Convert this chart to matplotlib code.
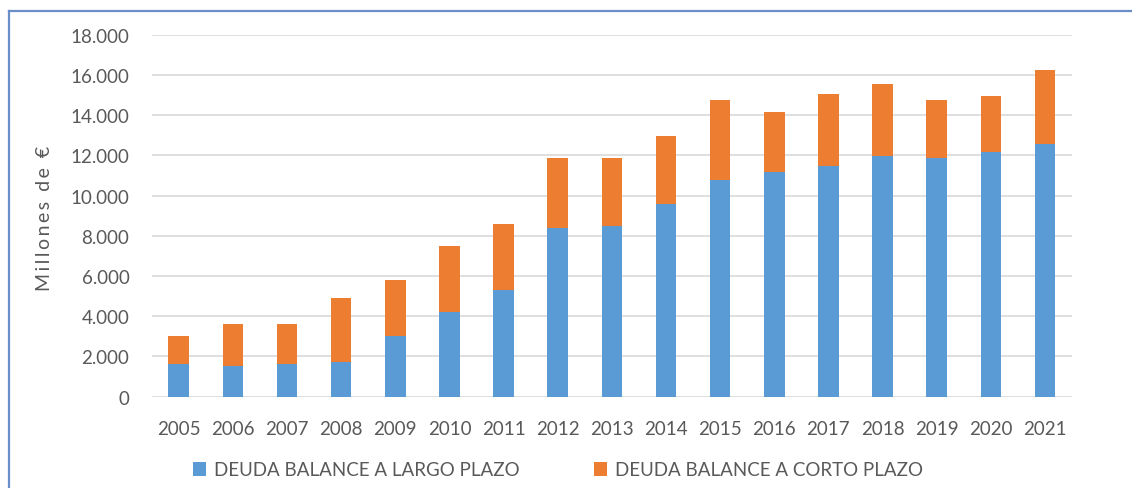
import matplotlib
matplotlib.use("Agg")
import matplotlib.pyplot as plt
from matplotlib.lines import Line2D
from matplotlib.ticker import FuncFormatter

years = ["2005", "2006", "2007", "2008", "2009", "2010", "2011", "2012", "2013",
         "2014", "2015", "2016", "2017", "2018", "2019", "2020", "2021"]
largo_plazo = [1630, 1540, 1630, 1740, 3000, 4230, 5310, 8390, 8490,
               9600, 10780, 11170, 11490, 11980, 11870, 12170, 12570]
total = [3000, 3610, 3610, 4910, 5800, 7490, 8570, 11870, 11870,
         12980, 14770, 14140, 15050, 15550, 14770, 14950, 16250]
corto_plazo = [t - l for t, l in zip(total, largo_plazo)]

BLUE = "#5B9BD5"
ORANGE = "#ED7D31"
TEXT = "#595959"
GRID = "#D9D9D9"

plt.rcParams["font.family"] = ["Lato", "DejaVu Sans"]

W, H = 1132, 489
fig = plt.figure(figsize=(W / 100, H / 100), dpi=100)

# chart frame (only the top and left edges are in view)
fig.add_artist(Line2D([9 / W, 9 / W], [0, 1 - 12 / H], color="#6A8FC8", lw=1.6))
fig.add_artist(Line2D([9 / W, 1], [1 - 12 / H, 1 - 12 / H], color="#6A8FC8", lw=1.6))

ax = fig.add_axes([151.7 / W, 1 - 397.7 / H, (1072 - 151.7) / W, (397.7 - 35.7) / H])
x = range(len(years))
ax.bar(x, largo_plazo, width=0.38, color=BLUE, zorder=3,
       label="DEUDA BALANCE A LARGO PLAZO")
ax.bar(x, corto_plazo, width=0.38, bottom=largo_plazo, color=ORANGE, zorder=3,
       label="DEUDA BALANCE A CORTO PLAZO")

ax.set_xlim(-0.5, len(years) - 0.5)
ax.set_ylim(0, 18000)
ax.set_yticks(range(0, 18001, 2000))
ax.yaxis.set_major_formatter(FuncFormatter(lambda v, _: f"{int(v):,}".replace(",", ".")))
ax.set_xticks(list(x))
ax.set_xticklabels(years)
ax.grid(axis="y", color=GRID, lw=1.2, zorder=0)
for s in ax.spines.values():
    s.set_visible(False)
ax.tick_params(length=0, labelsize=13.5, colors=TEXT)
ax.tick_params(axis="x", pad=17)
ax.tick_params(axis="y", pad=16)

# y label drawn with wide letter spacing, as in the original
label = "\u2009".join("Millones de €").replace("\u2009 \u2009", "  ")
fig.text(45 / W, 1 - 218 / H, label, rotation=90, ha="center", va="center",
         fontsize=14, color=TEXT)

fig.legend(loc="center", bbox_to_anchor=(558 / W, 1 - 471 / H), ncol=2,
           frameon=False, fontsize=13.5, handlelength=0.7, handleheight=0.7,
           handletextpad=0.4, columnspacing=4.0, labelcolor=TEXT)

fig.savefig("out.png", dpi=100)
